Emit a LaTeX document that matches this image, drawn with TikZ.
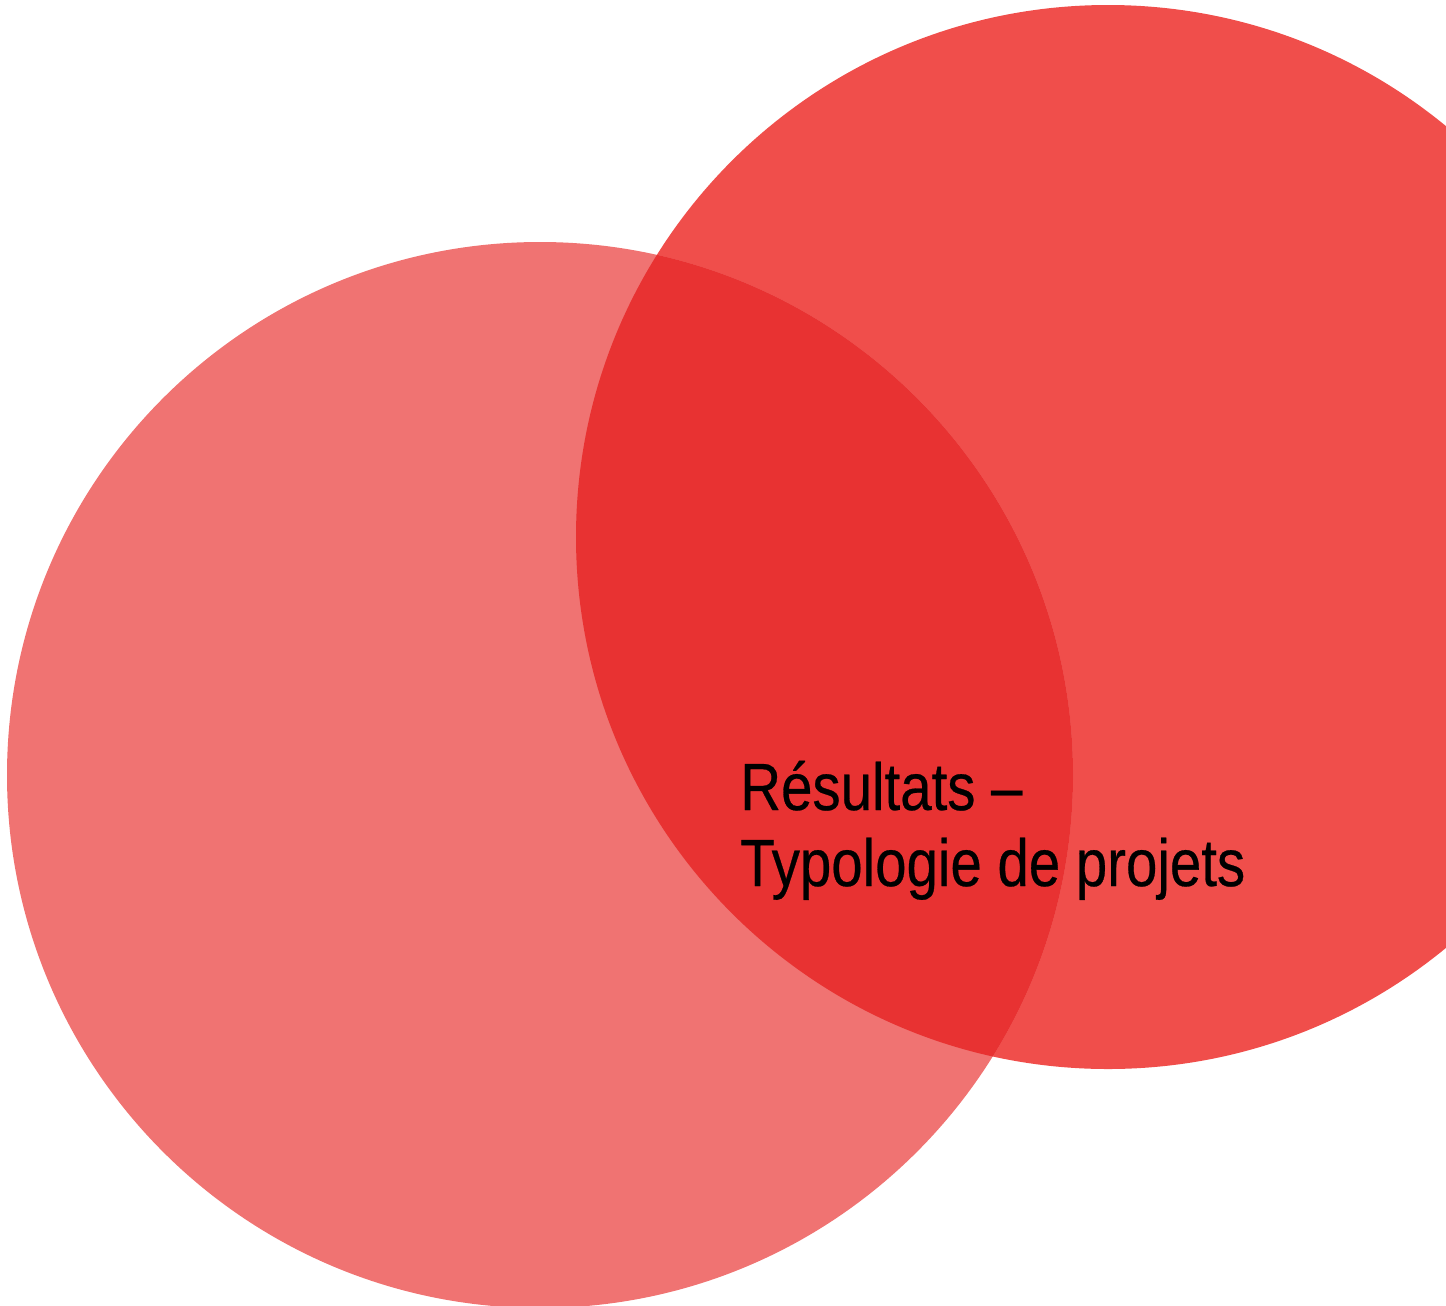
\documentclass[tikz,border=0pt]{standalone}
\usepackage{fontspec}
\setmainfont[FakeStretch=0.845,FakeBold=0.4]{Liberation Sans}
\definecolor{leftc}{HTML}{F07372}
\definecolor{rightc}{HTML}{F04E4B}
\definecolor{overc}{HTML}{E83232}
\tikzset{title/.style={anchor=base west,inner sep=0pt,text=black,font=\fontsize{38}{44}\selectfont}}
\begin{document}
\begin{tikzpicture}[x=0.02cm,y=-0.02cm]
\useasboundingbox (0,0) rectangle (1446,1305);
\begin{scope}
\clip (0,0) rectangle (1446,1305);
\fill[rightc] (1108,537) circle[radius=532];
\fill[leftc] (540,775) circle[radius=533];
\begin{scope}
\clip (540,775) circle[radius=533];
\fill[overc] (1108,537) circle[radius=532];
\end{scope}
\end{scope}
\node[title] (l1) at (740,810) {Résultats –};
\node[title] (l2) at (740,886) {Typologie de projets};
\end{tikzpicture}
\end{document}
